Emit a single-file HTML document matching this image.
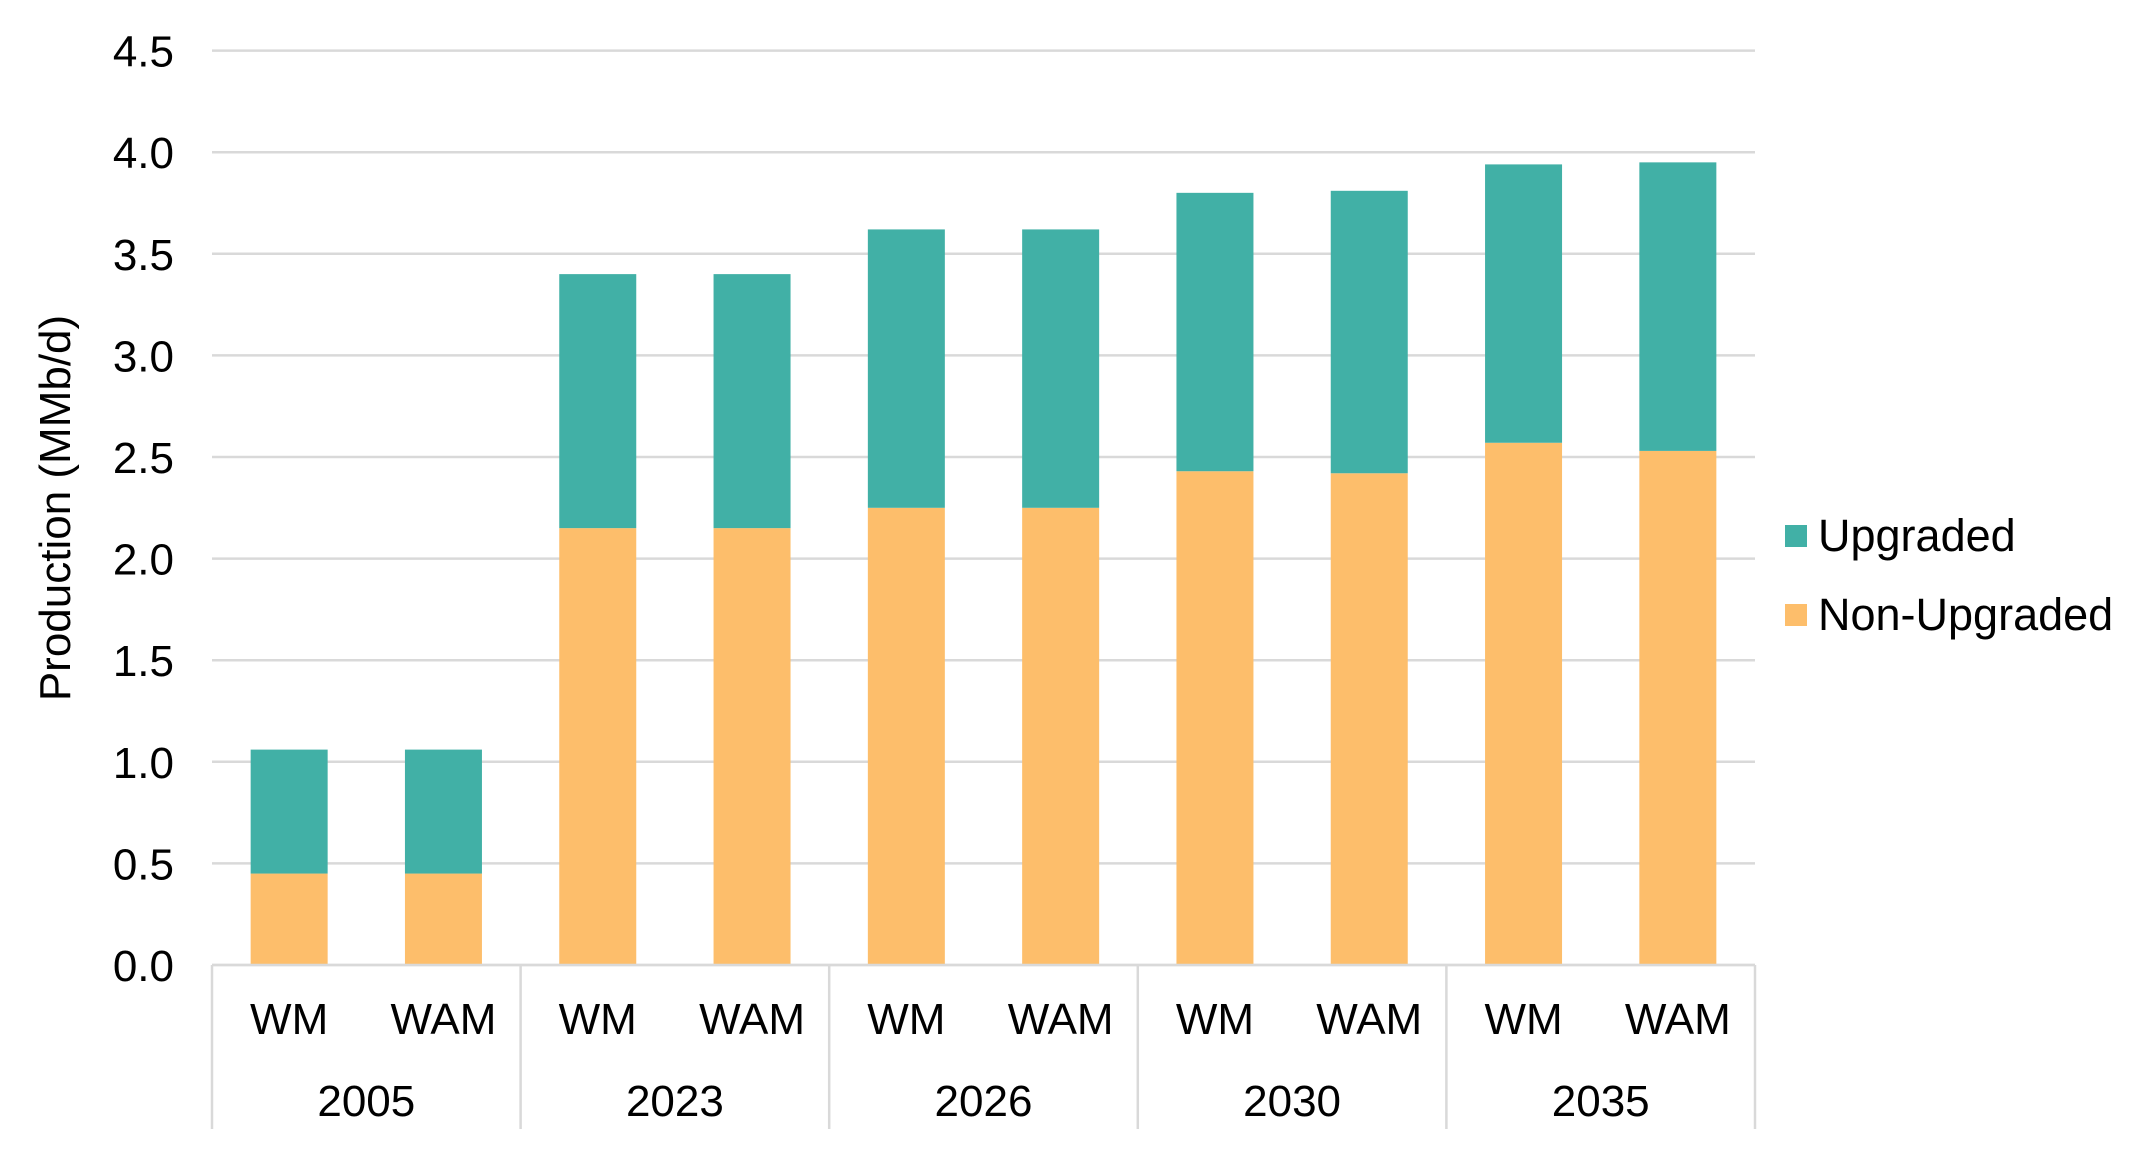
<!DOCTYPE html>
<html><head><meta charset="utf-8"><style>body{margin:0;background:#fff}svg{display:block;font-family:"Liberation Sans",Arial,sans-serif}</style></head>
<body>
<svg id="chart" width="2144" height="1153"></svg>
<script>
const groups = ["2005","2023","2026","2030","2035"];
const scenarios = ["WM","WAM"];
const nonUpgraded = [0.45,0.45, 2.15,2.15, 2.25,2.25, 2.43,2.42, 2.57,2.53];
const totals = [1.06,1.06, 3.40,3.40, 3.62,3.62, 3.80,3.81, 3.94,3.95];
const ticks = [0,0.5,1,1.5,2,2.5,3,3.5,4,4.5];

const NS="http://www.w3.org/2000/svg", svg=document.getElementById('chart');
const L=212,R=1755,Y0=965,Ytop=50.6,YMAX=4.5;
const y=v=>Y0-(Y0-Ytop)*v/YMAX;
const nb=groups.length*scenarios.length, slot=(R-L)/nb, bw=77;
const xc=i=>L+slot*(i+0.5);
function el(t,a,txt){const e=document.createElementNS(NS,t);for(const k in a)e.setAttribute(k,a[k]);if(txt!=null)e.textContent=txt;svg.appendChild(e);return e;}
ticks.forEach(t=>{
  const g=el('line',{x1:L,x2:R,y1:y(t),y2:y(t),stroke:'#d9d9d9','stroke-width':2.5});
  
  
  const lb=el('text',{x:174,y:y(t)+16,'text-anchor':'end','font-size':44,fill:'#000'},t.toFixed(1));
  
  
});
for(let i=0;i<nb;i++){
  const nu=nonUpgraded[i], tot=totals[i];
  const b1=el('rect',{x:xc(i)-bw/2,y:y(nu),width:bw,height:y(0)-y(nu),fill:'#FDBE6B'});
  
  
  const b2=el('rect',{x:xc(i)-bw/2,y:y(tot),width:bw,height:y(nu)-y(tot),fill:'#41B0A6'});
  
  
  const s=el('text',{x:xc(i),y:1034,'text-anchor':'middle','font-size':44},scenarios[i%2]);
  
  
}
const ax=el('line',{x1:L,x2:R,y1:Y0,y2:Y0,stroke:'#d9d9d9','stroke-width':2.5});


for(let g=0;g<=groups.length;g++){
  const x=L+slot*2*g;
  const sp=el('line',{x1:x,x2:x,y1:Y0,y2:1129,stroke:'#d9d9d9','stroke-width':2.5});
  
  
  if(g<groups.length){
    const gl=el('text',{x:x+slot,y:1116,'text-anchor':'middle','font-size':44},groups[g]);
    
    
  }
}
const yt=el('text',{x:0,y:0,'text-anchor':'middle','font-size':44,transform:'translate(70,508) rotate(-90)'},'Production (MMb/d)');


[['Upgraded','#41B0A6',536],['Non-Upgraded','#FDBE6B',615]].forEach(([n,c,cy])=>{
  const r=el('rect',{x:1785,y:cy-11,width:22,height:22,fill:c});
  
  
  const t=el('text',{x:1818,y:cy+15,'font-size':45},n);
  
  
});
</script>
</body></html>
